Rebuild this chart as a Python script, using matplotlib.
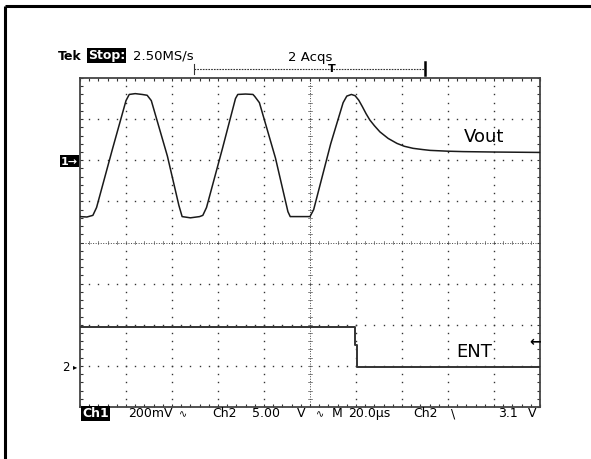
import numpy as np
import matplotlib
matplotlib.use("Agg")
import matplotlib.pyplot as plt

# ---- data (divisions: x 0..10, y -4..4 about screen centre) ----
vout_t = [0.0, 0.15, 0.28, 0.36, 0.7, 1.0, 1.07, 1.2, 1.35, 1.46, 1.55, 1.9, 2.15, 2.22,
          2.4, 2.6, 2.67, 2.75, 3.1, 3.38, 3.43, 3.6, 3.76, 3.80, 3.9, 4.25, 4.52, 4.57,
          4.8, 5.0, 5.08, 5.45, 5.72, 5.80, 5.90, 5.98, 6.06, 6.14, 6.22, 6.30, 6.40,
          6.52, 6.70, 6.89, 7.05, 7.24, 7.45, 7.61, 8.0, 8.33, 9.0, 10.0]
vout_v = [0.63, 0.62, 0.66, 0.85, 2.25, 3.45, 3.60, 3.62, 3.60, 3.58, 3.45, 2.10, 0.90, 0.63,
          0.60, 0.63, 0.66, 0.85, 2.30, 3.50, 3.60, 3.61, 3.60, 3.55, 3.40, 2.05, 0.75, 0.63,
          0.63, 0.63, 0.80, 2.40, 3.40, 3.56, 3.60, 3.57, 3.46, 3.30, 3.13, 2.98, 2.84,
          2.69, 2.53, 2.41, 2.34, 2.29, 2.26, 2.24, 2.22, 2.21, 2.20, 2.19]

ent_t = [0.0, 5.97, 5.97, 6.02, 6.02, 10.0]
ent_v = [-2.05, -2.05, -2.5, -2.5, -3.02, -3.02]

trace_labels = ["Vout", "ENT"]

W, H = 591, 460
fig = plt.figure(figsize=(W / 100, H / 100), dpi=100)
fig.patch.set_facecolor("white")

L, R, T, B = 80, 540, 79, 408
ax = fig.add_axes([L / W, 1 - B / H, (R - L) / W, (B - T) / H])
ax.set_xlim(0, 10)
ax.set_ylim(-4, 4)

# graticule dots
minor_y = np.round(np.arange(-4, 4.001, 0.2), 2)
minor_x = np.round(np.arange(0, 10.001, 0.2), 2)
gx, gy = [], []
for xv in range(1, 10):
    if xv == 5:
        continue
    for yv in minor_y[1:-1]:
        gx.append(xv); gy.append(yv)
for yv in range(-3, 4):
    if yv == 0:
        continue
    for xv in minor_x[1:-1]:
        gx.append(xv); gy.append(yv)
ax.plot(gx, gy, ls="none", marker="s", ms=1.0, mec="none", mfc="#333333", zorder=1)

# centre cross
ax.axhline(0, color="#444444", lw=0.7, ls=(0, (1.0, 1.6)), zorder=1)
ax.axvline(5, color="#444444", lw=0.7, ls=(0, (1.0, 1.6)), zorder=1)
for xv in minor_x[1:-1]:
    ax.plot([xv, xv], [-0.04, 0.04], color="#555555", lw=0.5, zorder=1)
for yv in minor_y[1:-1]:
    ax.plot([4.95, 5.05], [yv, yv], color="#555555", lw=0.5, zorder=1)

# border ticks
ax.set_xticks(minor_x)
ax.set_yticks(minor_y)
ax.tick_params(direction="in", length=2.5, width=0.8, color="#333333",
               top=True, right=True, labelbottom=False, labelleft=False)
for s in ax.spines.values():
    s.set_color("#444444")
    s.set_linewidth(1.3)

# traces
ax.plot(vout_t, vout_v, color="#1a1a1a", lw=1.1, zorder=3)
ax.plot(ent_t, ent_v, color="#333333", lw=1.4, zorder=3)

# overlay in pixel coordinates
ov = fig.add_axes([0, 0, 1, 1])
ov.set_xlim(0, W)
ov.set_ylim(H, 0)
ov.axis("off")
ov.patch.set_visible(False)

# outer frame (top and left)
ov.plot([5, W], [6.5, 6.5], color="black", lw=2.2, solid_capstyle="butt")
ov.plot([5, 5], [6.5, H], color="black", lw=2.2, solid_capstyle="butt")

fs = 9
ov.text(58, 56, "Tek", fontsize=fs, weight="bold", va="center", ha="left")
ov.text(88, 56, "Stop:", fontsize=fs, weight="bold", va="center", ha="left", color="white",
        bbox=dict(boxstyle="square,pad=0.08", fc="black", ec="none"))
ov.text(133, 56, "2.50MS/s", fontsize=9.5, va="center", ha="left")
ov.text(288, 57, "2 Acqs", fontsize=9.5, va="center", ha="left")

# record bracket
ov.plot([194, 425], [70, 70], color="#333333", lw=0.8, ls=(0, (1.5, 1)))
ov.plot([194, 194], [65, 75], color="#333333", lw=0.8)
ov.plot([425, 425], [63, 76], color="black", lw=1.8)
ov.text(332, 69, "T", fontsize=8, weight="bold", ha="center", va="center")

# trace labels
ov.text(484, 137, trace_labels[0], fontsize=13, ha="center", va="center")
ov.text(474, 352, trace_labels[1], fontsize=13, ha="center", va="center")

# channel markers
ov.text(61, 162, "1\u2192", fontsize=8, weight="bold", color="white", ha="left", va="center",
        bbox=dict(boxstyle="square,pad=0.1", fc="black", ec="none"))
ov.text(62, 368, "2", fontsize=8.5, ha="left", va="center")
ov.text(73, 367, "\u25B8", fontsize=6, ha="left", va="center")
ov.text(541, 342, "\u2190", fontsize=10, weight="bold", ha="right", va="center")

# status line
sy = 414
ov.text(82, sy, "Ch1", fontsize=fs, weight="bold", color="white", ha="left", va="center",
        bbox=dict(boxstyle="square,pad=0.08", fc="black", ec="none"))
ov.text(128, sy, "200mV", fontsize=fs, ha="left", va="center")
ov.text(187, sy, "\u223F", fontsize=7, ha="right", va="center")
ov.text(212, sy, "Ch2", fontsize=fs, ha="left", va="center")
ov.text(252, sy, "5.00", fontsize=fs, ha="left", va="center")
ov.text(305, sy, "V", fontsize=fs, ha="right", va="center")
ov.text(316, sy, "\u223F", fontsize=7, ha="left", va="center")
ov.text(332, sy, "M", fontsize=fs, ha="left", va="center")
ov.text(348, sy, "20.0\u00B5s", fontsize=fs, ha="left", va="center")
ov.text(413, sy, "Ch2", fontsize=fs, ha="left", va="center")
ov.text(451, sy, "\\", fontsize=fs, ha="left", va="center")
ov.text(498, sy, "3.1", fontsize=fs, ha="left", va="center")
ov.text(536, sy, "V", fontsize=fs, ha="right", va="center")

fig.savefig("out.png", dpi=100, facecolor="white")
